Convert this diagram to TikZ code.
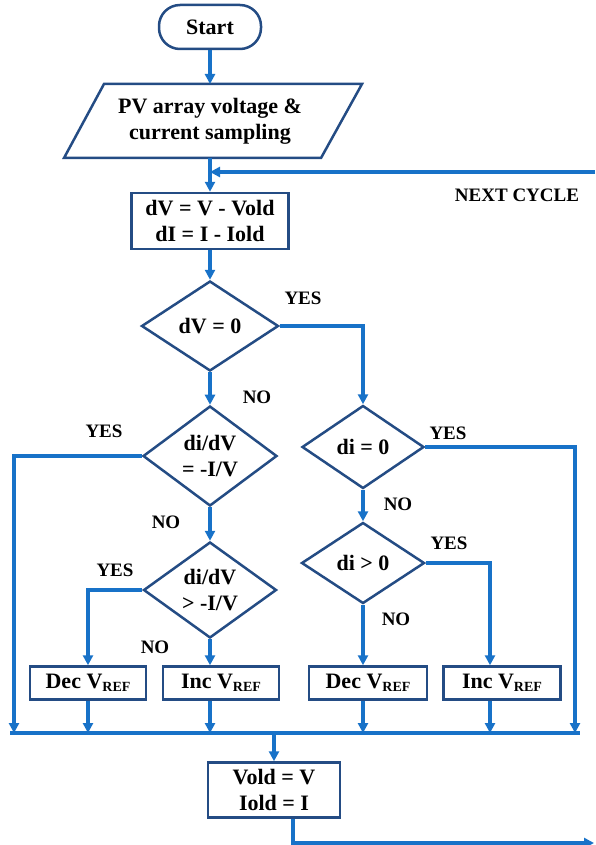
\documentclass[tikz,border=0pt]{standalone}
\usepackage{fontspec}
\setmainfont{Liberation Serif}
\usepackage{xcolor}
\usetikzlibrary{shapes.geometric,arrows.meta}

\definecolor{linecol}{RGB}{24,114,200}
\definecolor{shapecol}{RGB}{36,76,132}

\newcommand{\vref}{V\raisebox{-0.3ex}{\fontsize{14}{14}\selectfont REF}}

\tikzset{
  txt/.style={align=center,inner sep=1pt,font=\fontsize{22}{26}\selectfont\bfseries},
  box/.style={txt,draw=shapecol,line width=2.5pt,fill=white},
  term/.style={box,rounded corners=21pt,minimum width=102,minimum height=44},
  proc/.style={box,rectangle},
  dec/.style={box,diamond,aspect=1.4,inner sep=0pt},
  lbl/.style={font=\fontsize{19}{20}\selectfont\bfseries,inner sep=0pt},
  link/.style={draw=linecol,line width=3.3pt},
  flow/.style={link,-{Triangle[length=10pt,width=10pt]}}
}

\begin{document}
\begin{tikzpicture}[x=1pt,y=-1pt]
  \useasboundingbox (0,0) rectangle (595,845);

  % main column
  \node[term] (start) at (210,27) {Start};
  \draw[draw=shapecol,line width=2.5pt] (64,158) -- (104,84) -- (362,84) -- (321,158) -- cycle;
  \node[txt] (sample) at (210,121) {PV array voltage \&\\current sampling};
  \coordinate (ioT) at (210,84);
  \coordinate (ioB) at (210,158);
  \node[proc,minimum width=157,minimum height=56] (diff) at (210,221) {dV = V - Vold\\dI = I - Iold};
  \node[dec,minimum width=137,minimum height=90] (dvz) at (210,326) {dV = 0};
  \node[dec,minimum width=134,minimum height=100] (eq) at (210,456) {di/dV\\= -I/V};
  \node[dec,minimum width=133,minimum height=96] (gt) at (210,590) {di/dV\\> -I/V};

  % right column
  \node[dec,minimum width=122,minimum height=83] (diz) at (363,447) {di = 0};
  \node[dec,minimum width=123,minimum height=81] (dip) at (363,563) {di > 0};

  % actions
  \node[proc,minimum width=116,minimum height=33] (decA) at (88,683) {Dec \vref};
  \node[proc,minimum width=116,minimum height=33] (incA) at (221,683) {Inc \vref};
  \node[proc,minimum width=118,minimum height=33] (decB) at (368,683) {Dec \vref};
  \node[proc,minimum width=117,minimum height=33] (incB) at (502,683) {Inc \vref};
  \node[proc,minimum width=132,minimum height=55] (upd) at (274,790) {Vold = V\\Iold = I};

  \coordinate (nxt) at (595,172);
  \coordinate (mA) at (10,733);
  \coordinate (mB) at (580,733);
  \coordinate (mL) at (14,733);
  \coordinate (mR) at (575,733);
  \coordinate (back) at (594,843);

  \draw[flow] (start) -- (ioT);
  \draw[flow] (ioB) -- (diff);
  \draw[flow] (nxt) -- (nxt -| diff.north);
  \draw[flow] (diff) -- (dvz);
  \draw[flow] (dvz) -- (eq);
  \draw[flow] (eq) -- (gt);
  \draw[flow] (dvz.east) -| (diz.north);
  \draw[flow] (diz) -- (dip);
  \draw[flow] (eq.west) -| (mL);
  \draw[flow] (diz.east) -| (mR);
  \draw[flow] (gt.west) -| (decA.north);
  \draw[flow] (gt.south) -- (gt.south |- incA.north);
  \draw[flow] (dip.south) -- (dip.south |- decB.north);
  \draw[flow] (dip.east) -| ([xshift=-12]incB.north);

  % merge
  \draw[link] (mA) -- (mB);
  \draw[flow] (decA) -- (decA |- mA);
  \draw[flow] (gt.south |- incA.south) -- (gt.south |- mA);
  \draw[flow] (dip.south |- decB.south) -- (dip.south |- mA);
  \draw[flow] ([xshift=-12]incB.south) -- ([xshift=-12]incB.south |- mA);
  \draw[flow] (upd.north |- mA) -- (upd);
  \draw[flow] ([xshift=19]upd.south) |- (back);

  % labels
  \node[lbl] (nc) at (517,195) {NEXT CYCLE};
  \node[lbl] (y1) at (303,298) {YES};
  \node[lbl] (n1) at (257,397) {NO};
  \node[lbl] (y2) at (104,431) {YES};
  \node[lbl] (y3) at (448,433) {YES};
  \node[lbl] (n3) at (398,504) {NO};
  \node[lbl] (n2) at (166,522) {NO};
  \node[lbl] (y5) at (449,543) {YES};
  \node[lbl] (y4) at (115,570) {YES};
  \node[lbl] (n5) at (396,619) {NO};
  \node[lbl] (n4) at (155,647) {NO};
\end{tikzpicture}
\end{document}
